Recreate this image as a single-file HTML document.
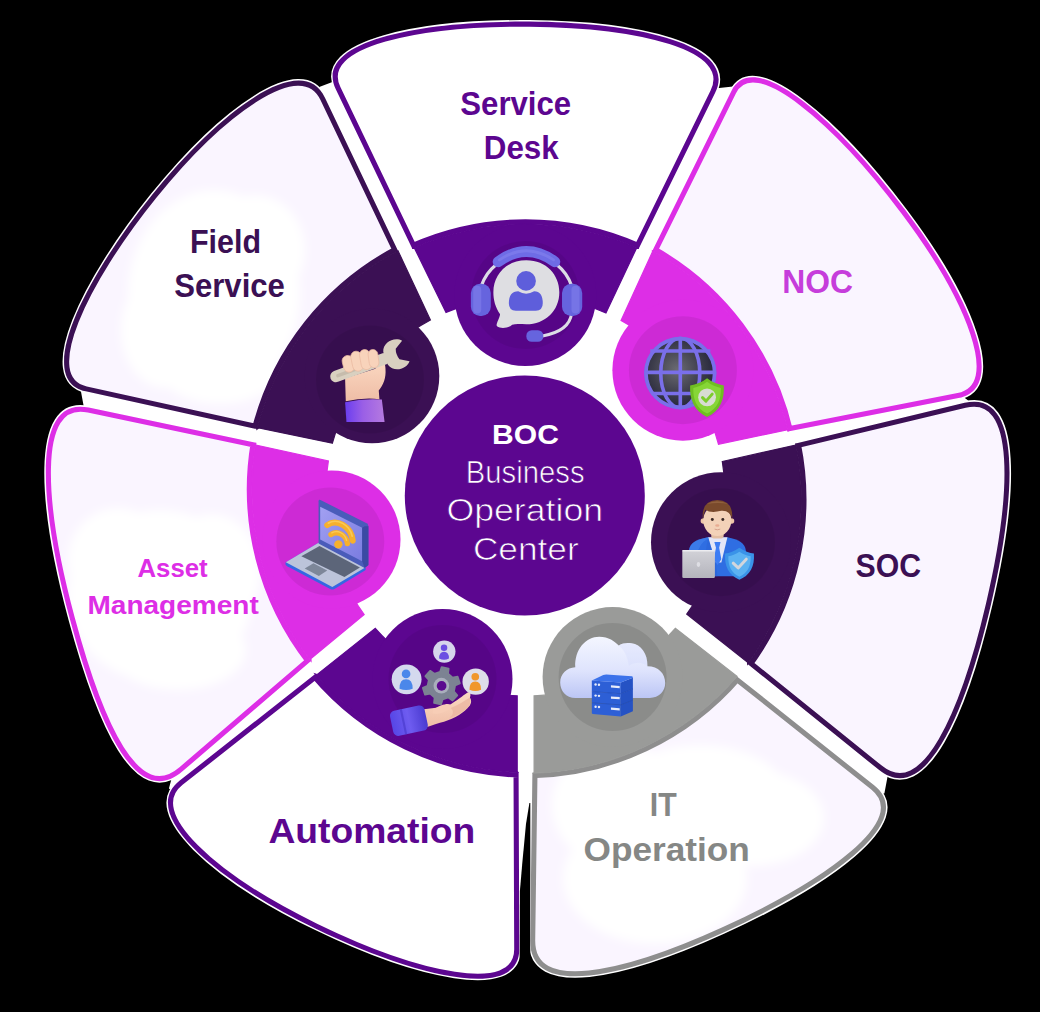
<!DOCTYPE html>
<html><head><meta charset="utf-8"><title>BOC</title>
<style>
html,body{margin:0;padding:0;background:#000;}
body{width:1040px;height:1012px;overflow:hidden;font-family:"Liberation Sans",sans-serif;}
svg{display:block}
text{font-family:"Liberation Sans",sans-serif;}
</style></head><body>
<svg width="1040" height="1012" viewBox="0 0 1040 1012">
<defs>

<linearGradient id="gCloud" x1="0" y1="0" x2="0" y2="1"><stop offset="0" stop-color="#f4f6ff"/><stop offset="0.55" stop-color="#dfe4fd"/><stop offset="1" stop-color="#bcc6f5"/></linearGradient>
<radialGradient id="gGlobe" cx="0.45" cy="0.45" r="0.6"><stop offset="0" stop-color="#6b6b72"/><stop offset="0.6" stop-color="#3e3e4c"/><stop offset="1" stop-color="#23233a"/></radialGradient>
<linearGradient id="gCuff" x1="0" y1="0" x2="1" y2="0"><stop offset="0" stop-color="#6a3df0"/><stop offset="0.45" stop-color="#9a5fe6"/><stop offset="1" stop-color="#b57ae0"/></linearGradient>
<linearGradient id="gCuff2" x1="0" y1="0" x2="1" y2="0"><stop offset="0" stop-color="#5646e6"/><stop offset="0.5" stop-color="#6e5cf0"/><stop offset="1" stop-color="#4a3ad0"/></linearGradient>
<linearGradient id="gSkin" x1="0" y1="0" x2="0" y2="1"><stop offset="0" stop-color="#fbd9c2"/><stop offset="1" stop-color="#efbda6"/></linearGradient>
<linearGradient id="gLap" x1="0" y1="0" x2="0" y2="1"><stop offset="0" stop-color="#d2d2d8"/><stop offset="1" stop-color="#b4b4bc"/></linearGradient>
<linearGradient id="gScreen" x1="0" y1="0" x2="1" y2="1"><stop offset="0" stop-color="#a2a0f2"/><stop offset="1" stop-color="#7a7ce0"/></linearGradient>
<radialGradient id="gMag" cx="0.5" cy="0.5" r="0.5"><stop offset="0" stop-color="#c92ad6"/><stop offset="0.8" stop-color="#cf2bdb"/><stop offset="1" stop-color="#d42ddf"/></radialGradient>

<filter id="bl" x="-30%" y="-30%" width="160%" height="160%"><feGaussianBlur stdDeviation="5"/></filter>
<clipPath id="cp0"><path d="M412.20 248.40 L335.79 89.25 C312.21 40.14 423.91 20.65 529.47 21.58 C635.04 22.51 739.17 43.97 715.16 92.87 L638.80 248.40 A279.00 279.00 0 0 0 412.20 248.40 Z"/></clipPath>
<clipPath id="cp1"><path d="M652.40 250.80 L731.42 90.99 C754.38 44.57 841.10 124.60 905.52 210.34 C969.94 296.08 1009.29 388.14 958.47 398.10 L788.00 431.50 A279.00 279.00 0 0 0 652.40 250.80 Z"/></clipPath>
<clipPath id="cp2"><path d="M795.70 443.40 L964.58 402.87 C1023.18 388.81 1015.96 497.69 990.91 604.84 C965.87 711.98 925.77 807.66 878.86 769.84 L747.60 664.00 A279.00 279.00 0 0 0 795.70 443.40 Z"/></clipPath>
<clipPath id="cp3"><path d="M737.00 676.40 L874.10 785.31 C920.44 822.13 824.04 886.64 724.00 932.21 C623.96 977.78 529.33 999.43 530.13 940.24 L532.40 773.10 A279.00 279.00 0 0 0 737.00 676.40 Z"/></clipPath>
<clipPath id="cp4"><path d="M518.60 772.50 L519.30 949.19 C519.51 1002.46 413.78 976.43 314.83 928.25 C215.88 880.07 137.57 813.77 179.44 780.82 L315.20 674.00 A279.00 279.00 0 0 0 518.60 772.50 Z"/></clipPath>
<clipPath id="cp5"><path d="M311.00 661.00 L182.80 771.08 C135.73 811.50 98.22 724.23 69.80 618.80 C41.37 513.36 28.03 394.78 88.74 407.58 L255.80 442.80 A279.00 279.00 0 0 0 311.00 661.00 Z"/></clipPath>
<clipPath id="cp6"><path d="M257.00 429.10 L85.71 391.36 C33.23 379.80 84.30 279.00 151.99 195.04 C219.68 111.07 301.83 49.17 324.96 97.67 L398.00 250.80 A279.00 279.00 0 0 0 257.00 429.10 Z"/></clipPath>
</defs>
<rect width="1040" height="1012" fill="#000"/>
<g fill="#fff" stroke="#fff" stroke-linejoin="round">
<circle cx="525.3" cy="496.0" r="283" stroke="none"/>
<path d="M412.20 248.40 L335.79 89.25 C312.21 40.14 423.91 20.65 529.47 21.58 C635.04 22.51 739.17 43.97 715.16 92.87 L638.80 248.40 A279.00 279.00 0 0 0 412.20 248.40 Z" stroke-width="3"/>
<path d="M652.40 250.80 L731.42 90.99 C754.38 44.57 841.10 124.60 905.52 210.34 C969.94 296.08 1009.29 388.14 958.47 398.10 L788.00 431.50 A279.00 279.00 0 0 0 652.40 250.80 Z" stroke-width="3"/>
<path d="M795.70 443.40 L964.58 402.87 C1023.18 388.81 1015.96 497.69 990.91 604.84 C965.87 711.98 925.77 807.66 878.86 769.84 L747.60 664.00 A279.00 279.00 0 0 0 795.70 443.40 Z" stroke-width="3"/>
<path d="M737.00 676.40 L874.10 785.31 C920.44 822.13 824.04 886.64 724.00 932.21 C623.96 977.78 529.33 999.43 530.13 940.24 L532.40 773.10 A279.00 279.00 0 0 0 737.00 676.40 Z" stroke-width="3"/>
<path d="M518.60 772.50 L519.30 949.19 C519.51 1002.46 413.78 976.43 314.83 928.25 C215.88 880.07 137.57 813.77 179.44 780.82 L315.20 674.00 A279.00 279.00 0 0 0 518.60 772.50 Z" stroke-width="3"/>
<path d="M311.00 661.00 L182.80 771.08 C135.73 811.50 98.22 724.23 69.80 618.80 C41.37 513.36 28.03 394.78 88.74 407.58 L255.80 442.80 A279.00 279.00 0 0 0 311.00 661.00 Z" stroke-width="3"/>
<path d="M257.00 429.10 L85.71 391.36 C33.23 379.80 84.30 279.00 151.99 195.04 C219.68 111.07 301.83 49.17 324.96 97.67 L398.00 250.80 A279.00 279.00 0 0 0 257.00 429.10 Z" stroke-width="3"/>
<path d="M638.80 248.40 L716.93 89.27 L733.19 87.41 L652.40 250.80 Z" stroke-width="2"/>
<path d="M788.00 431.50 L962.39 397.33 L968.47 401.93 L795.70 443.40 Z" stroke-width="2"/>
<path d="M747.60 664.00 L886.64 776.12 L883.49 792.78 L737.00 676.40 Z" stroke-width="2"/>
<path d="M532.40 773.10 L530.08 944.24 L519.31 953.19 L518.60 772.50 Z" stroke-width="2"/>
<path d="M315.20 674.00 L170.00 788.25 L172.18 780.20 L311.00 661.00 Z" stroke-width="2"/>
<path d="M255.80 442.80 L84.83 406.75 L81.80 390.50 L257.00 429.10 Z" stroke-width="2"/>
<path d="M398.00 250.80 L320.23 87.74 L332.76 82.94 L412.20 248.40 Z" stroke-width="2"/>
</g>
<path d="M529.4 803 L530.3 803 L530.3 966 L519.6 966 L519.9 891 L522.3 863 L526 824 Z" fill="#000"/>
<path d="M412.20 248.40 L335.79 89.25 C312.21 40.14 423.91 20.65 529.47 21.58 C635.04 22.51 739.17 43.97 715.16 92.87 L638.80 248.40 A279.00 279.00 0 0 0 412.20 248.40 Z" fill="#ffffff"/>
<path d="M652.40 250.80 L731.42 90.99 C754.38 44.57 841.10 124.60 905.52 210.34 C969.94 296.08 1009.29 388.14 958.47 398.10 L788.00 431.50 A279.00 279.00 0 0 0 652.40 250.80 Z" fill="#faf5ff"/>
<path d="M795.70 443.40 L964.58 402.87 C1023.18 388.81 1015.96 497.69 990.91 604.84 C965.87 711.98 925.77 807.66 878.86 769.84 L747.60 664.00 A279.00 279.00 0 0 0 795.70 443.40 Z" fill="#faf5ff"/>
<path d="M737.00 676.40 L874.10 785.31 C920.44 822.13 824.04 886.64 724.00 932.21 C623.96 977.78 529.33 999.43 530.13 940.24 L532.40 773.10 A279.00 279.00 0 0 0 737.00 676.40 Z" fill="#faf5ff"/>
<path d="M518.60 772.50 L519.30 949.19 C519.51 1002.46 413.78 976.43 314.83 928.25 C215.88 880.07 137.57 813.77 179.44 780.82 L315.20 674.00 A279.00 279.00 0 0 0 518.60 772.50 Z" fill="#ffffff"/>
<path d="M311.00 661.00 L182.80 771.08 C135.73 811.50 98.22 724.23 69.80 618.80 C41.37 513.36 28.03 394.78 88.74 407.58 L255.80 442.80 A279.00 279.00 0 0 0 311.00 661.00 Z" fill="#faf5ff"/>
<path d="M257.00 429.10 L85.71 391.36 C33.23 379.80 84.30 279.00 151.99 195.04 C219.68 111.07 301.83 49.17 324.96 97.67 L398.00 250.80 A279.00 279.00 0 0 0 257.00 429.10 Z" fill="#faf5ff"/>
<g clip-path="url(#cp6)"><g filter="url(#bl)" fill="#fff"><ellipse cx="214" cy="294" rx="86" ry="104"/><ellipse cx="165" cy="330" rx="44" ry="58"/><ellipse cx="255" cy="250" rx="50" ry="55"/><ellipse cx="220" cy="370" rx="60" ry="34"/></g></g>
<g clip-path="url(#cp5)"><g filter="url(#bl)" fill="#fff"><ellipse cx="160" cy="596" rx="92" ry="86"/><ellipse cx="118" cy="560" rx="50" ry="52"/><ellipse cx="212" cy="572" rx="48" ry="58"/><ellipse cx="178" cy="650" rx="68" ry="40"/></g></g>
<g clip-path="url(#cp3)"><g filter="url(#bl)" fill="#fff"><ellipse cx="655" cy="878" rx="92" ry="66"/><ellipse cx="752" cy="818" rx="72" ry="48"/><ellipse cx="618" cy="805" rx="66" ry="62"/><ellipse cx="700" cy="800" rx="90" ry="55"/></g></g>
<path d="M412.20 248.40 L335.79 89.25 C312.21 40.14 423.91 20.65 529.47 21.58 C635.04 22.51 739.17 43.97 715.16 92.87 L638.80 248.40 A279.00 279.00 0 0 0 412.20 248.40 Z" fill="none" stroke="#5c0690" stroke-width="10.2" clip-path="url(#cp0)"/>
<path d="M652.40 250.80 L731.42 90.99 C754.38 44.57 841.10 124.60 905.52 210.34 C969.94 296.08 1009.29 388.14 958.47 398.10 L788.00 431.50 A279.00 279.00 0 0 0 652.40 250.80 Z" fill="none" stroke="#dd2ee6" stroke-width="10.2" clip-path="url(#cp1)"/>
<path d="M795.70 443.40 L964.58 402.87 C1023.18 388.81 1015.96 497.69 990.91 604.84 C965.87 711.98 925.77 807.66 878.86 769.84 L747.60 664.00 A279.00 279.00 0 0 0 795.70 443.40 Z" fill="none" stroke="#3b1054" stroke-width="10.2" clip-path="url(#cp2)"/>
<path d="M737.00 676.40 L874.10 785.31 C920.44 822.13 824.04 886.64 724.00 932.21 C623.96 977.78 529.33 999.43 530.13 940.24 L532.40 773.10 A279.00 279.00 0 0 0 737.00 676.40 Z" fill="none" stroke="#8e8e8e" stroke-width="10.2" clip-path="url(#cp3)"/>
<path d="M518.60 772.50 L519.30 949.19 C519.51 1002.46 413.78 976.43 314.83 928.25 C215.88 880.07 137.57 813.77 179.44 780.82 L315.20 674.00 A279.00 279.00 0 0 0 518.60 772.50 Z" fill="none" stroke="#5c0690" stroke-width="10.2" clip-path="url(#cp4)"/>
<path d="M311.00 661.00 L182.80 771.08 C135.73 811.50 98.22 724.23 69.80 618.80 C41.37 513.36 28.03 394.78 88.74 407.58 L255.80 442.80 A279.00 279.00 0 0 0 311.00 661.00 Z" fill="none" stroke="#dd2ee6" stroke-width="10.2" clip-path="url(#cp5)"/>
<path d="M257.00 429.10 L85.71 391.36 C33.23 379.80 84.30 279.00 151.99 195.04 C219.68 111.07 301.83 49.17 324.96 97.67 L398.00 250.80 A279.00 279.00 0 0 0 257.00 429.10 Z" fill="none" stroke="#3b1054" stroke-width="10.2" clip-path="url(#cp6)"/>
<path d="M446.03 312.38 L414.60 248.40 L412.20 248.40 A279.00 279.00 0 0 1 638.80 248.40 L636.40 248.40 L605.94 312.98 A200.00 200.00 0 0 0 446.03 312.38 Z" fill="#5c0690" stroke="#5c0690" stroke-width="1.2" stroke-linejoin="miter"/>
<circle cx="525.30" cy="295.00" r="71.0" fill="#5c0690"/>
<circle cx="525.30" cy="295.00" r="54.0" fill="#000" fill-opacity="0.060"/>
<path d="M621.04 320.40 L652.40 252.00 L652.40 250.80 A279.00 279.00 0 0 1 788.00 431.50 L788.00 429.70 L718.50 444.28 A200.00 200.00 0 0 0 621.04 320.40 Z" fill="#dd2ee6" stroke="#dd2ee6" stroke-width="1.2" stroke-linejoin="miter"/>
<circle cx="682.90" cy="370.20" r="70.5" fill="#dd2ee6"/>
<circle cx="682.90" cy="370.20" r="54.0" fill="#000" fill-opacity="0.070"/>
<path d="M722.30 461.48 L795.70 445.10 L795.70 443.40 A279.00 279.00 0 0 1 747.60 664.00 L747.60 662.20 L686.74 614.06 A200.00 200.00 0 0 0 722.30 461.48 Z" fill="#3b1054" stroke="#3b1054" stroke-width="1.2" stroke-linejoin="miter"/>
<circle cx="721.00" cy="542.20" r="70.0" fill="#3b1054"/>
<circle cx="721.00" cy="542.20" r="54.0" fill="#000" fill-opacity="0.070"/>
<path d="M675.30 628.29 L737.00 676.40 L737.00 676.40 A279.00 279.00 0 0 1 532.40 773.10 L534.10 773.00 L534.10 695.81 A200.00 200.00 0 0 0 675.30 628.29 Z" fill="#9a9b99" stroke="#9a9b99" stroke-width="1.2" stroke-linejoin="miter"/>
<circle cx="612.60" cy="677.10" r="70.0" fill="#9a9b99"/>
<circle cx="612.60" cy="677.10" r="54.0" fill="#000" fill-opacity="0.095"/>
<path d="M517.20 695.84 L517.20 772.00 L518.60 772.50 A279.00 279.00 0 0 1 315.20 674.00 L317.00 674.60 L375.31 628.30 A200.00 200.00 0 0 0 517.20 695.84 Z" fill="#5c0690" stroke="#5c0690" stroke-width="1.2" stroke-linejoin="miter"/>
<circle cx="442.50" cy="679.00" r="70.0" fill="#5c0690"/>
<circle cx="442.50" cy="679.00" r="54.0" fill="#000" fill-opacity="0.060"/>
<path d="M364.18 614.49 L311.00 658.60 L311.00 661.00 A279.00 279.00 0 0 1 255.80 442.80 L255.80 445.10 L328.39 460.96 A200.00 200.00 0 0 0 364.18 614.49 Z" fill="#dd2ee6" stroke="#dd2ee6" stroke-width="1.2" stroke-linejoin="miter"/>
<circle cx="331.50" cy="539.50" r="69.0" fill="#dd2ee6"/>
<circle cx="330.30" cy="541.60" r="54.0" fill="#000" fill-opacity="0.070"/>
<path d="M332.39 443.21 L258.80 428.00 L257.00 429.10 A279.00 279.00 0 0 1 398.00 250.80 L398.00 250.80 L430.40 319.95 A200.00 200.00 0 0 0 332.39 443.21 Z" fill="#3b1054" stroke="#3b1054" stroke-width="1.2" stroke-linejoin="miter"/>
<circle cx="372.00" cy="376.00" r="67.3" fill="#3b1054"/>
<circle cx="370.00" cy="379.60" r="54.0" fill="#000" fill-opacity="0.070"/>
<circle cx="524.8" cy="495.5" r="120" fill="#5c0690"/>
<g transform="translate(455 230) scale(0.13462)"><path d="M305 258 A338 338 0 0 0 196 415" stroke="#dcdce6" stroke-width="24" fill="none"/><path d="M757 258 A338 338 0 0 1 866 415" stroke="#dcdce6" stroke-width="24" fill="none"/><path d="M866 620 Q850 750 650 787" stroke="#dcdce6" stroke-width="22" fill="none"/><path d="M530 225 C680 225 775 335 775 462 C775 600 670 700 530 700 C490 700 455 695 425 703 C395 730 340 735 312 715 C300 700 330 660 335 625 C300 575 285 520 285 462 C285 335 380 225 530 225Z" fill="#dedee2"/><path d="M320 236 Q530 84 742 236" stroke="#6e6ce6" stroke-width="80" stroke-linecap="round" fill="none"/><path d="M330 222 Q530 88 732 222" stroke="#8886f0" stroke-width="22" stroke-linecap="round" fill="none" opacity="0.5"/><rect x="118" y="400" width="148" height="238" rx="68" fill="#6664de"/><rect x="795" y="400" width="150" height="238" rx="68" fill="#6664de"/><rect x="135" y="415" width="60" height="205" rx="30" fill="#8583ee" opacity="0.5"/><rect x="865" y="415" width="60" height="205" rx="30" fill="#8583ee" opacity="0.5"/><rect x="530" y="745" width="126" height="86" rx="40" fill="#6664de"/><circle cx="528" cy="378" r="73" fill="#5e5edb"/><path d="M400 545 Q400 455 470 455 Q528 492 588 455 Q652 455 652 545 Q652 600 600 600 L452 600 Q400 600 400 545Z" fill="#5e5edb"/></g>
<g transform="translate(615 305) scale(0.13462)"><circle cx="485" cy="505" r="268" fill="#6f66e0"/><circle cx="485" cy="505" r="246" fill="url(#gGlobe)"/><g stroke="#7a6fea" stroke-width="27" fill="none"><line x1="485" y1="240" x2="485" y2="770"/><ellipse cx="485" cy="505" rx="145" ry="258"/><line x1="262" y1="342" x2="708" y2="342"/><line x1="225" y1="500" x2="745" y2="500"/><line x1="270" y1="657" x2="700" y2="657"/><circle cx="485" cy="505" r="255"/></g><path d="M684 545 C720 575 770 592 808 598 C815 700 780 790 684 832 C590 790 552 700 558 598 C600 592 648 575 684 545Z" fill="#6fbe22"/><path d="M684 570 C715 595 755 610 786 616 C790 700 762 770 684 806 C606 770 578 700 582 616 C613 610 653 595 684 570Z" fill="#86d636"/><circle cx="684" cy="686" r="66" fill="#d8dcd2"/><path d="M650 688 L676 714 L722 662" stroke="#7ccc2c" stroke-width="22" fill="none" stroke-linecap="round" stroke-linejoin="round"/></g>
<g transform="translate(650 475) scale(0.13462)"><path d="M290 560 Q296 485 430 462 L575 462 Q704 485 712 560 L712 752 L290 752 Z" fill="#2f6ee2"/><path d="M290 560 Q296 485 430 462 L445 470 Q330 500 330 752 L290 752Z" fill="#4484ee" opacity="0.6"/><path d="M432 462 L575 462 L530 650 L488 650 Z" fill="#e4e6f6"/><path d="M478 498 L524 498 L514 540 L530 625 L502 668 L474 625 L490 540 Z" fill="#3d7df4"/><path d="M432 462 L488 650 L502 752 L380 752 Z" fill="#2a63d6" opacity="0.55"/><rect x="455" y="410" width="92" height="62" rx="20" fill="#e3bfa4"/><circle cx="396" cy="342" r="20" fill="#eec5a8"/><circle cx="606" cy="342" r="20" fill="#eec5a8"/><ellipse cx="500" cy="338" rx="104" ry="116" fill="#f3d2b8"/><path d="M392 330 Q380 190 500 186 Q622 190 610 330 Q598 262 530 266 Q450 286 412 258 Q398 285 392 330Z" fill="#7a4a2c"/><path d="M420 215 Q500 175 585 218 Q520 200 420 215Z" fill="#9a6a44" opacity="0.7"/><circle cx="463" cy="331" r="11" fill="#3b2a26"/><circle cx="541" cy="331" r="11" fill="#3b2a26"/><ellipse cx="500" cy="375" rx="16" ry="10" fill="#e8ac92"/><path d="M480 402 Q500 412 522 402" stroke="#c98a78" stroke-width="5" fill="none"/><rect x="240" y="558" width="242" height="208" rx="10" fill="url(#gLap)"/><rect x="240" y="558" width="242" height="10" rx="5" fill="#ececf0"/><ellipse cx="360" cy="665" rx="13" ry="18" fill="#dedee4"/><path d="M664 540 C700 565 740 580 772 584 C778 680 745 745 664 778 C585 745 552 680 558 584 C590 580 628 565 664 540Z" fill="#3a93e8"/><path d="M664 570 C692 590 722 600 748 604 C750 680 724 730 664 755 C606 730 580 680 582 604 C608 600 636 590 664 570Z" fill="#5cb2f2"/><path d="M618 655 L655 690 L715 625" stroke="#d2d6dc" stroke-width="22" fill="none" stroke-linecap="round" stroke-linejoin="round"/></g>
<g transform="translate(540 605) scale(0.13462)"><g fill="url(#gCloud)"><path d="M265 690 C190 690 150 635 150 575 C150 510 200 465 262 462 C255 330 340 235 440 235 C510 235 555 270 585 300 C615 282 650 280 680 285 C750 295 800 360 798 455 C880 455 930 510 930 580 C930 640 885 690 815 690 Z"/></g><path d="M585 300 C615 282 650 280 680 285 C750 295 800 360 798 455 C770 420 700 420 660 450 C650 380 625 330 585 300Z" fill="#cfd6fb" opacity="0.3"/><path d="M385 726 L600 742 L600 828 L392 810 Q385 808 385 800 Z" fill="#2d5fd6"/><path d="M600 742 L690 706 L690 790 L600 828 Z" fill="#2552c4"/><circle cx="413" cy="756" r="9" fill="#e8ecfa"/><circle cx="438" cy="758" r="9" fill="#e8ecfa"/><path d="M527 762 L592 767 L592 784 L527 779 Z" fill="#e8ecfa"/><path d="M385 643 L600 659 L600 745 L392 727 Q385 725 385 717 Z" fill="#2d5fd6"/><path d="M600 659 L690 623 L690 707 L600 745 Z" fill="#2552c4"/><circle cx="413" cy="673" r="9" fill="#e8ecfa"/><circle cx="438" cy="675" r="9" fill="#e8ecfa"/><path d="M527 679 L592 684 L592 701 L527 696 Z" fill="#e8ecfa"/><path d="M385 560 L600 576 L600 662 L392 644 Q385 642 385 634 Z" fill="#2d5fd6"/><path d="M600 576 L690 540 L690 624 L600 662 Z" fill="#2552c4"/><path d="M385 560 L470 520 Q480 516 492 516 L682 530 Q692 532 690 540 L600 576 Z" fill="#3c72ea"/><circle cx="413" cy="590" r="9" fill="#e8ecfa"/><circle cx="438" cy="592" r="9" fill="#e8ecfa"/><path d="M527 596 L592 601 L592 618 L527 613 Z" fill="#e8ecfa"/><path d="M385 643 L600 659 L690 623" stroke="#1d46ae" stroke-width="5" fill="none" opacity="0.8"/><path d="M385 726 L600 742 L690 706" stroke="#1d46ae" stroke-width="5" fill="none" opacity="0.8"/></g>
<g transform="translate(370 615) scale(0.13462)"><circle cx="552" cy="272" r="83" fill="#d6d6ec"/><circle cx="550" cy="243.14" r="24.07" fill="#6b4fe2"/><path d="M513.48 322.78 Q513.48 273.02 550 273.02 Q586.52 273.02 586.52 322.78 Q550 340.78 513.48 322.78 Z" fill="#6b4fe2"/><circle cx="272" cy="478" r="111" fill="#d4d9ee"/><circle cx="268" cy="437.38" r="32.19" fill="#4b87ea"/><path d="M219.16 547.26 Q219.16 477.34 268 477.34 Q316.84 477.34 316.84 547.26 Q268 565.26 219.16 547.26 Z" fill="#4b87ea"/><circle cx="785" cy="495" r="98" fill="#dddde9"/><circle cx="782" cy="458.84" r="28.42" fill="#f0972b"/><path d="M738.88 554.68 Q738.88 494.12 782 494.12 Q825.12 494.12 825.12 554.68 Q782 572.68 738.88 554.68 Z" fill="#f0972b"/><path d="M520.8 423.4 L532.7 387.0 L583.7 397.9 L579.7 436.0 L613.4 466.2 L650.8 458.3 L666.9 507.9 L632.0 523.6 L622.6 567.8 L648.1 596.3 L613.3 635.0 L582.2 612.6 L539.2 626.6 L527.3 663.0 L476.3 652.1 L480.3 614.0 L446.6 583.8 L409.2 591.7 L393.1 542.1 L428.0 526.4 L437.4 482.2 L411.9 453.7 L446.7 415.0 L477.8 437.4Z" fill="#7c8393" stroke="#7c8393" stroke-width="14" stroke-linejoin="round"/><circle cx="530" cy="525" r="58" fill="#a9aebc"/><circle cx="532" cy="527" r="36" fill="#5b0a8f"/><path d="M370 705 C450 690 540 690 590 668 C640 640 690 600 722 578 C745 570 752 590 742 612 C760 640 750 668 725 690 C680 740 600 780 520 800 C470 815 430 830 400 840 Z" fill="url(#gSkin)"/><path d="M600 690 C650 670 700 640 742 612 C752 640 745 665 725 690 C690 720 640 750 590 765 C620 740 625 712 600 690Z" fill="#eab49e" opacity="0.7"/><path d="M470 700 C520 670 580 650 600 668 C612 690 580 712 540 724 C510 734 480 735 465 730 Z" fill="#f7cdb6"/><g transform="rotate(-12 290 785)"><rect x="158" y="690" width="262" height="190" rx="38" fill="url(#gCuff2)"/><rect x="240" y="690" width="16" height="190" fill="#4434c4" opacity="0.55"/></g></g>
<g transform="translate(265 475) scale(0.13462)"><path d="M398 503 L152 650 Q148 668 165 678 L488 848 Q502 854 516 846 L748 706 L748 690 Z" fill="#3567e2"/><path d="M398 503 L155 648 L500 832 L745 688 Z" fill="#bcc4da"/><path d="M405 528 L270 603 L590 758 L705 688 Z" fill="#5c6579"/><path d="M360 655 L295 695 L400 750 L462 710 Z" fill="#7d8799"/><path d="M398 195 Q398 180 412 186 L755 358 Q768 366 768 380 L768 668 L740 690 L398 508 Z" fill="#4a5cba"/><path d="M410 235 L722 392 L722 640 L410 480 Z" fill="url(#gScreen)"/><path d="M722 392 L740 380 L768 380 L768 668 L740 690 L722 640Z" fill="#3b4aa4"/><g fill="none" stroke="#f6b02c" stroke-linecap="round"><path d="M462 372 C530 322 640 380 652 488" stroke-width="44"/><path d="M490 442 C540 408 605 448 612 510" stroke-width="40"/></g><circle cx="545" cy="515" r="31" fill="#f6b02c"/><g fill="none" stroke="#fbd468" stroke-linecap="round" opacity="0.7"><path d="M470 358 C535 318 630 370 648 455" stroke-width="12"/><path d="M496 430 C540 402 596 436 606 486" stroke-width="10"/></g></g>
<g transform="translate(300 315) scale(0.13462)"><path d="M335 648 Q470 618 608 628 L628 795 L345 795 Z" fill="url(#gCuff)"/><path d="M335 470 L340 640 Q470 612 590 625 L585 560 C620 520 640 470 635 400 C635 340 600 320 580 340 L560 400 Z" fill="url(#gSkin)"/><g transform="translate(8 13) rotate(-20 430 380)"><rect x="205" y="338" width="470" height="86" rx="43" fill="#d9d0c0"/><rect x="250" y="368" width="300" height="26" rx="13" fill="#c6bcac"/><path d="M640 381 m0 -50 C660 260 760 250 800 300 L735 340 Q720 381 735 422 L800 462 C760 512 660 502 640 431 Z" fill="#d9d0c0"/></g><g fill="#f8d3bb" stroke="#eab9a0" stroke-width="5"><rect x="318" y="300" width="82" height="125" rx="40" transform="rotate(-14 359 362)"/><rect x="384" y="268" width="80" height="150" rx="40" transform="rotate(-12 424 343)"/><rect x="448" y="256" width="78" height="150" rx="39" transform="rotate(-10 487 331)"/><rect x="510" y="256" width="72" height="135" rx="36" transform="rotate(-8 546 323)"/></g></g>
<text x="460.30" y="114.90" font-size="32.81" font-weight="700" fill="#5c0690" textLength="110.89" lengthAdjust="spacingAndGlyphs">Service</text>
<text x="483.80" y="158.90" font-size="33.14" font-weight="700" fill="#5c0690" textLength="74.96" lengthAdjust="spacingAndGlyphs">Desk</text>
<text x="190.00" y="252.80" font-size="32.70" font-weight="700" fill="#3b1054" textLength="71.08" lengthAdjust="spacingAndGlyphs">Field</text>
<text x="174.20" y="296.90" font-size="32.81" font-weight="700" fill="#3b1054" textLength="110.69" lengthAdjust="spacingAndGlyphs">Service</text>
<text x="782.20" y="292.70" font-size="32.70" font-weight="700" fill="#c63ddb" textLength="70.71" lengthAdjust="spacingAndGlyphs">NOC</text>
<text x="855.60" y="577.20" font-size="32.95" font-weight="700" fill="#3b1054" textLength="65.50" lengthAdjust="spacingAndGlyphs">SOC</text>
<text x="649.80" y="815.60" font-size="33.58" font-weight="700" fill="#858785" textLength="26.89" lengthAdjust="spacingAndGlyphs">IT</text>
<text x="583.50" y="861.30" font-size="33.81" font-weight="700" fill="#858785" textLength="166.29" lengthAdjust="spacingAndGlyphs">Operation</text>
<text x="268.40" y="843.40" font-size="35.17" font-weight="700" fill="#5c0690" textLength="206.99" lengthAdjust="spacingAndGlyphs">Automation</text>
<text x="137.50" y="576.50" font-size="26.02" font-weight="700" fill="#dd2ee6" textLength="70.19" lengthAdjust="spacingAndGlyphs">Asset</text>
<text x="87.50" y="613.50" font-size="25.73" font-weight="700" fill="#dd2ee6" textLength="171.21" lengthAdjust="spacingAndGlyphs">Management</text>
<text x="492.10" y="444.00" font-size="28.20" font-weight="700" fill="#ffffff" textLength="66.81" lengthAdjust="spacingAndGlyphs">BOC</text>
<text x="465.70" y="482.60" font-size="30.52" font-weight="400" fill="#ffffff" textLength="118.89" lengthAdjust="spacingAndGlyphs" stroke="#5c0690" stroke-width="0.70">Business</text>
<text x="446.40" y="520.60" font-size="30.95" font-weight="400" fill="#ffffff" textLength="156.69" lengthAdjust="spacingAndGlyphs" stroke="#5c0690" stroke-width="0.70">Operation</text>
<text x="472.90" y="559.70" font-size="30.95" font-weight="400" fill="#ffffff" textLength="105.82" lengthAdjust="spacingAndGlyphs" stroke="#5c0690" stroke-width="0.70">Center</text>
</svg>
</body></html>
